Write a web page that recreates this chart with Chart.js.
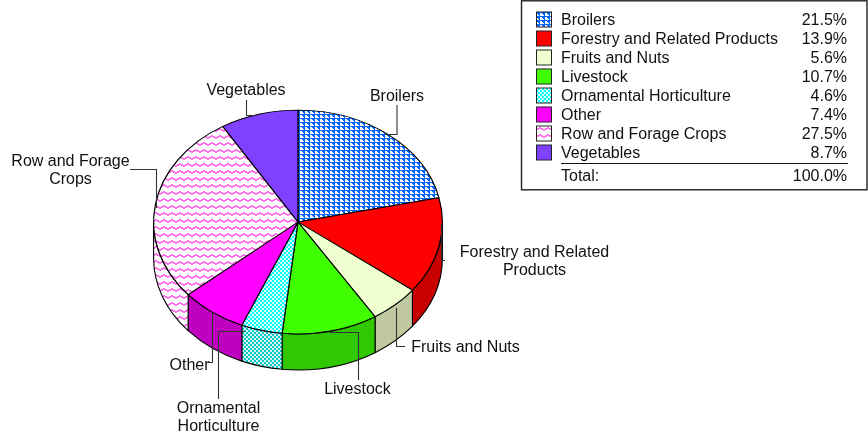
<!DOCTYPE html>
<html><head><meta charset="utf-8">
<style>html,body{margin:0;padding:0;background:#fff}canvas{display:block}</style>
<script src="https://cdn.jsdelivr.net/npm/chart.js@4/dist/chart.umd.min.js"></script>
</head><body><canvas id="c" width="868" height="433"></canvas>
<script>
const categories = ["Broilers","Forestry and Related Products","Fruits and Nuts","Livestock","Ornamental Horticulture","Other","Row and Forage Crops","Vegetables"];
const shares = [21.5,13.9,5.6,10.7,4.6,7.4,27.5,8.7];
const totalLabel = "Total:";
const totalValue = "100.0%";
const topColors = ["#0064ff","#ff0000","#f0ffd0","#40ff00","#00ffff","#ff00ff","#ff70ea","#8040ff"];
const wallColors = ["#0050c8","#c80000","#c0c8a0","#30c800","#00c8c8","#c000c0","#ff70ea","#6630c8"];
const patternKinds = ["steps",null,null,null,"check",null,"zigzag",null];
const zigzagSteps = [3,2,2,1,1,2,2,3];

const TILT = 0.775, DEPTH = 36;
const FONT = '16px "Liberation Sans", Arial, sans-serif';
const INK = "#111";

function tile(kind, color, scaleBack){
  const t = document.createElement("canvas"), g = t.getContext("2d");
  if(kind === "steps"){
    t.width = 5; t.height = 4; g.fillStyle = color; g.fillRect(0,0,5,4);
    g.fillStyle = "#fff"; g.fillRect(0,1,2,1); g.fillRect(0,2,3,1); g.fillRect(0,3,4,1);
  } else if(kind === "check"){
    t.width = t.height = 4; g.fillStyle = color; g.fillRect(0,0,4,4);
    g.fillStyle = "rgba(255,255,255,0.85)"; g.fillRect(0,0,2,2); g.fillRect(2,2,2,2);
  } else {
    t.width = 8; t.height = 7; g.fillStyle = "#fff"; g.fillRect(0,0,8,7);
    g.fillStyle = color;
    zigzagSteps.forEach((s,x)=>g.fillRect(x,s,1,2));
  }
  const ctx = document.createElement("canvas").getContext("2d");
  const out = ctx.createPattern(t,"repeat");
  if(scaleBack) out.setTransform(new DOMMatrix().scale(1,1/TILT));
  return out;
}
const fillFor = (cols,i,back) => patternKinds[i] ? tile(patternKinds[i],cols[i],back) : cols[i];
const topFills = categories.map((_,i)=>fillFor(topColors,i,true));
const wallFills = categories.map((_,i)=>fillFor(wallColors,i,false));
const swatchFills = categories.map((_,i)=>fillFor(topColors,i,false));

const calloutTexts = [
  {lines:["Broilers"],x:397,y:97},
  {lines:["Forestry and Related","Products"],x:534.5,y:253},
  {lines:["Fruits and Nuts"],x:465.5,y:348},
  {lines:["Livestock"],x:357.5,y:390},
  {lines:["Ornamental","Horticulture"],x:218.5,y:409},
  {lines:["Other"],x:189.5,y:366},
  {lines:["Row and Forage","Crops"],x:70.5,y:162},
  {lines:["Vegetables"],x:246,y:91}
];
const leaders = [
  [[397,105],[397,134.5],[385,134.5]],
  [[445,260.5],[441.5,260.5],[441.5,224]],
  [[405,346.5],[396.5,346.5],[396.5,308]],
  [[358.5,380],[358.5,332.5],[330,332.5]],
  [[218.5,399],[218.5,331.5],[245,331.5]],
  [[208,362.5],[212.5,362.5],[212.5,313]],
  [[130,169.5],[156.5,169.5],[156.5,208]],
  [[246.5,100],[246.5,115.5],[255,115.5]]
];

const tiltPlugin = {
  id:"tilt",
  beforeDatasetDraw(chart){
    const ctx = chart.ctx, arcs = chart.getDatasetMeta(0).data;
    const cx = arcs[0].x, cy = arcs[0].y, r = arcs[0].outerRadius;
    ctx.save();
    arcs.forEach((a,i)=>{
      const s = Math.max(a.startAngle,0), e = Math.min(a.endAngle,Math.PI);
      if(e <= s) return;
      ctx.beginPath();
      ctx.ellipse(cx,cy,r,r*TILT,0,s,e);
      ctx.ellipse(cx,cy+DEPTH,r,r*TILT,0,e,s,true);
      ctx.closePath();
      ctx.fillStyle = wallFills[i];
      ctx.fill();
      ctx.strokeStyle = "#000"; ctx.lineWidth = 1.1; ctx.stroke();
    });
    ctx.restore();
    ctx.save();
    ctx.translate(0,cy); ctx.scale(1,TILT); ctx.translate(0,-cy);
  },
  afterDatasetDraw(chart){ chart.ctx.restore(); },
  afterDraw(chart){
    const ctx = chart.ctx;
    ctx.save();
    ctx.font = FONT; ctx.fillStyle = INK; ctx.textBaseline = "middle"; ctx.textAlign = "center";
    calloutTexts.forEach(t=>t.lines.forEach((l,k)=>ctx.fillText(l,t.x,t.y+k*18)));
    ctx.strokeStyle = "#333"; ctx.lineWidth = 1.1;
    leaders.forEach(p=>{ctx.beginPath();p.forEach((q,k)=>k?ctx.lineTo(q[0],q[1]):ctx.moveTo(q[0],q[1]));ctx.stroke();});
    // legend table
    ctx.strokeStyle = "#222"; ctx.lineWidth = 1.4;
    ctx.strokeRect(521.5,0.8,345.5,189);
    ctx.textBaseline = "middle";
    categories.forEach((c,i)=>{
      const y = 20+i*19;
      ctx.fillStyle = swatchFills[i];
      ctx.fillRect(536.5,y-8,15,15);
      ctx.strokeStyle = "#222"; ctx.lineWidth = 1; ctx.strokeRect(536.5,y-8,15,15);
      ctx.fillStyle = INK;
      ctx.textAlign = "left"; ctx.fillText(c,561,y+1);
      ctx.textAlign = "right"; ctx.fillText(shares[i].toFixed(1)+"%",847,y+1);
    });
    ctx.strokeStyle = "#111"; ctx.lineWidth = 1;
    ctx.beginPath(); ctx.moveTo(561,163.5); ctx.lineTo(848,163.5); ctx.stroke();
    ctx.fillStyle = INK;
    ctx.textAlign = "left"; ctx.fillText(totalLabel,561,177);
    ctx.textAlign = "right"; ctx.fillText(totalValue,847,177);
    ctx.restore();
  }
};

new Chart(document.getElementById("c"),{
  type:"pie",
  data:{labels:categories,datasets:[{data:shares,backgroundColor:topFills,borderColor:"#000",borderWidth:1.2,clip:false,hoverOffset:0}]},
  options:{
    responsive:false,animation:false,events:[],
    layout:{padding:{left:153,right:425,top:77,bottom:66}},
    plugins:{legend:{display:false},tooltip:{enabled:false},title:{display:false}}
  },
  plugins:[tiltPlugin]
});
</script></body></html>
